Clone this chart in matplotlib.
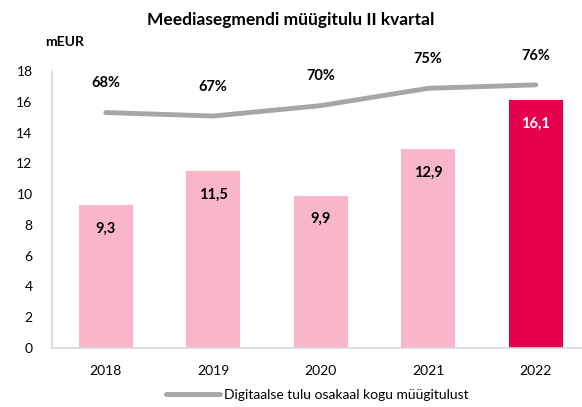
import matplotlib
matplotlib.use("Agg")
import matplotlib.pyplot as plt

plt.rcParams['font.family'] = ['Lato', 'DejaVu Sans']

years = ["2018", "2019", "2020", "2021", "2022"]
revenue = [9.3, 11.5, 9.9, 12.9, 16.1]
digital_share = [0.68, 0.67, 0.70, 0.75, 0.76]
bar_labels = ["9,3", "11,5", "9,9", "12,9", "16,1"]
share_labels = ["68%", "67%", "70%", "75%", "76%"]
yticks = [0, 2, 4, 6, 8, 10, 12, 14, 16, 18]

title = "Meediasegmendi müügitulu II kvartal"
unit = "mEUR"
legend_label = "Digitaalse tulu osakaal kogu müügitulust"

pink = "#F9B6C9"
magenta = "#E6004C"
gray = "#A6A6A6"

fig = plt.figure(figsize=(5.82, 4.07), dpi=100)
ax = fig.add_axes([52/582, 59/407, 537.5/582, 277/407])

x = list(range(len(years)))
colors = [pink] * (len(years) - 1) + [magenta]
ax.bar(x, revenue, width=0.5, color=colors, zorder=2)
ax.set_xlim(-0.5, len(years) - 0.5)
ax.set_ylim(0, 18)
ax.set_yticks(yticks)
ax.set_xticks(x)
ax.set_xticklabels(years)
ax.tick_params(axis='both', length=0, labelsize=10, colors="#000000")
ax.tick_params(axis='x', pad=12)
ax.tick_params(axis='y', pad=14)
for s in ['top', 'right']:
    ax.spines[s].set_visible(False)
for s in ['left', 'bottom']:
    ax.spines[s].set_color("#D9D9D9")
    ax.spines[s].set_linewidth(1.2)

for i, (v, lab) in enumerate(zip(revenue, bar_labels)):
    ax.annotate(lab, (i, v), xytext=(0, -17), textcoords='offset points',
                ha='center', va='center', fontsize=10.5, fontweight='bold',
                color='white' if i == len(years) - 1 else 'black', zorder=3)

ax2 = ax.twinx()
ax2.set_ylim(0, 0.8)
ax2.axis('off')
line, = ax2.plot(x, digital_share, color=gray, lw=3.5, solid_capstyle='round',
                 solid_joinstyle='round', label=legend_label, zorder=4)
for i, (v, lab) in enumerate(zip(digital_share, share_labels)):
    ax2.annotate(lab, (i, v), xytext=(0, 21), textcoords='offset points',
                 ha='center', va='center', fontsize=10.5, fontweight='bold', color='black')

fig.text(291/582, 1 - 20/407, title, ha='center', va='center', fontsize=12.5, fontweight='bold')
fig.text(45/582, 1 - 42/407, unit, ha='left', va='center', fontsize=10, fontweight='bold')

fig.legend(handles=[line], loc='center', bbox_to_anchor=(317/582, 1 - 395/407),
           frameon=False, fontsize=10, handlelength=3.9, handletextpad=0.25)

fig.savefig("out.png", dpi=100)
